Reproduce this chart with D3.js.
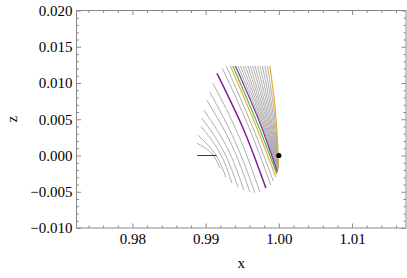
<!DOCTYPE html>
<html><head><meta charset="utf-8">
<script src="https://cdn.jsdelivr.net/npm/d3@7"></script>
<style>html,body{margin:0;padding:0;background:#fff;}svg{display:block;}
svg text{font-family:"Liberation Serif","Times New Roman",serif !important;}</style>
</head><body>
<svg id="c" width="407" height="278"></svg>
<script>
// ---- data ----
const xTicks = [0.98, 0.99, 1.00, 1.01];
const zTicks = [-0.010, -0.005, 0.000, 0.005, 0.010, 0.015, 0.020];
const xLabel = "x";
const zLabel = "z";

// gray family of curves: [x, z] points, top -> bottom
const grayCurves = [
  [[0.98881,0.00169],[0.99078,0.00034],[0.99195,-0.00175]],
  [[0.98895,0.00279],[0.99131,0.00021],[0.99277,-0.00299]],
  [[0.98936,0.00403],[0.99195,0.00037],[0.99359,-0.00381]],
  [[0.98949,0.00513],[0.99243,0.00065],[0.99441,-0.00436]],
  [[0.98977,0.00623],[0.99299,0.00098],[0.99522,-0.00478]],
  [[0.99018,0.00761],[0.99355,0.00149],[0.99604,-0.00505]],
  [[0.99059,0.00871],[0.99402,0.00195],[0.99673,-0.00512]],
  [[0.99100,0.00995],[0.99458,0.00262],[0.99741,-0.00505]],
  [[0.99229,0.01201],[0.99591,0.00389],[0.99891,-0.00409]],
  [[0.99284,0.01229],[0.99632,0.00417],[0.99925,-0.00354]],
  [[0.99440,0.01236],[0.99744,0.00487],[0.99981,-0.00224]],
  [[0.99474,0.01236],[0.99761,0.00490],[0.99982,-0.00217]],
  [[0.99507,0.01236],[0.99778,0.00491],[0.99983,-0.00212]],
  [[0.99541,0.01236],[0.99795,0.00494],[0.99984,-0.00206]],
  [[0.99575,0.01236],[0.99811,0.00495],[0.99985,-0.00201]],
  [[0.99608,0.01236],[0.99828,0.00498],[0.99986,-0.00194]],
  [[0.99642,0.01236],[0.99845,0.00500],[0.99987,-0.00189]],
  [[0.99675,0.01236],[0.99862,0.00501],[0.99988,-0.00183]],
  [[0.99709,0.01236],[0.99879,0.00504],[0.99989,-0.00176]],
  [[0.99743,0.01236],[0.99896,0.00505],[0.99990,-0.00171]],
  [[0.99776,0.01236],[0.99913,0.00508],[0.99991,-0.00165]],
  [[0.99810,0.01236],[0.99929,0.00509],[0.99992,-0.00160]],
  [[0.99844,0.01236],[0.99946,0.00512],[0.99993,-0.00153]]
];
const purpleCurve1 = [[0.99154,0.01133],[0.99520,0.00355],[0.99823,-0.00450]];
const orangeCurve1 = [[0.99338,0.01236],[0.99673,0.00445],[0.99959,-0.00299]];
const greenCurve   = [[0.99372,0.01236],[0.99700,0.00458],[0.99973,-0.00257]];
const purpleCurve2 = [[0.99407,0.01236],[0.99727,0.00486],[0.99980,-0.00230]];
const orangeCurve2 = [[0.99877,0.01236],[0.99945,0.00692],[0.99986,0.00142],[0.99996,-0.00175]];
const blueSegment  = [[0.98885,0.0],[0.99150,0.0]];
const blackPoint   = [1.0, 0.0];

// ---- drawing ----
const svg = d3.select("#c");
const L = 76.5, R = 406, T = 10.5, B = 228;
const x = d3.scaleLinear().domain([0.97236, 1.01737]).range([L, R]);
const y = d3.scaleLinear().domain([-0.010, 0.020]).range([B, T]);
const font = "Liberation Serif";
const frameCol = "#8a8a8a";

svg.append("defs").append("clipPath").attr("id","pc")
  .append("rect").attr("x",L).attr("y",T).attr("width",R-L).attr("height",B-T);

const line = d3.line().x(d=>x(d[0])).y(d=>y(d[1])).curve(d3.curveNatural);
const g = svg.append("g").attr("clip-path","url(#pc)");

g.selectAll("path.gray").data(grayCurves).join("path")
  .attr("class","gray").attr("d",line)
  .attr("fill","none").attr("stroke","#a6a6a6").attr("stroke-width",0.9);

const colored = [
  {d:orangeCurve2, c:"#e8a93a", w:1.2},
  {d:orangeCurve1, c:"#eab040", w:1.2},
  {d:greenCurve,   c:"#4cc04c", w:1.2},
  {d:purpleCurve2, c:"#8a2a9a", w:1.2},
  {d:purpleCurve1, c:"#7e1f92", w:1.5}
];
g.selectAll("path.col").data(colored).join("path")
  .attr("class","col").attr("d",d=>line(d.d))
  .attr("fill","none").attr("stroke",d=>d.c).attr("stroke-width",d=>d.w);

g.append("path").attr("d", d3.line().x(d=>x(d[0])).y(d=>y(d[1]))(blueSegment))
  .attr("fill","none").attr("stroke","#2323c8").attr("stroke-width",1.2);

g.append("circle").attr("cx",x(blackPoint[0])).attr("cy",y(blackPoint[1]))
  .attr("r",2.6).attr("fill","#000");

// axes
const xMinor = d3.range(0.974, 1.0171, 0.002).filter(v=>!xTicks.some(t=>Math.abs(t-v)<1e-6));
const yMinor = d3.range(-0.010, 0.02001, 0.001).filter(v=>!zTicks.some(t=>Math.abs(t-v)<1e-6));

function styleAxis(sel){
  sel.attr("font-family",font).attr("font-size",15);
  sel.select(".domain").remove();
  sel.selectAll(".tick line").attr("stroke",frameCol);
  sel.selectAll("text").style("font-family",font).style("font-size","15px").attr("fill","#000");
}
// bottom
svg.append("g").attr("transform",`translate(0,${B})`)
  .call(d3.axisBottom(x).tickValues(xTicks).tickFormat(d3.format(".2f")).tickSize(-4.5).tickPadding(5))
  .call(styleAxis);
svg.append("g").attr("transform",`translate(0,${B})`)
  .call(d3.axisBottom(x).tickValues(xMinor).tickFormat("").tickSize(-2.5)).call(styleAxis);
// top
svg.append("g").attr("transform",`translate(0,${T})`)
  .call(d3.axisTop(x).tickValues(xTicks).tickFormat("").tickSize(-4.5)).call(styleAxis);
svg.append("g").attr("transform",`translate(0,${T})`)
  .call(d3.axisTop(x).tickValues(xMinor).tickFormat("").tickSize(-2.5)).call(styleAxis);
// left
svg.append("g").attr("transform",`translate(${L},0)`)
  .call(d3.axisLeft(y).tickValues(zTicks).tickFormat(d3.format(".3f")).tickSize(-4.5).tickPadding(4))
  .call(styleAxis);
svg.append("g").attr("transform",`translate(${L},0)`)
  .call(d3.axisLeft(y).tickValues(yMinor).tickFormat("").tickSize(-2.5)).call(styleAxis);
// right
svg.append("g").attr("transform",`translate(${R},0)`)
  .call(d3.axisRight(y).tickValues(zTicks).tickFormat("").tickSize(-4.5)).call(styleAxis);
svg.append("g").attr("transform",`translate(${R},0)`)
  .call(d3.axisRight(y).tickValues(yMinor).tickFormat("").tickSize(-2.5)).call(styleAxis);

svg.append("rect").attr("x",L).attr("y",T).attr("width",R-L).attr("height",B-T)
  .attr("fill","none").attr("stroke",frameCol).attr("stroke-width",1);

svg.append("text").attr("x",(L+R)/2).attr("y",268).attr("text-anchor","middle")
  .style("font-family",font).style("font-size","15px").text(xLabel);
svg.append("text").attr("transform",`translate(17,${(T+B)/2}) rotate(-90)`).attr("text-anchor","middle")
  .style("font-family",font).style("font-size","15px").text(zLabel);
</script>
</body></html>
